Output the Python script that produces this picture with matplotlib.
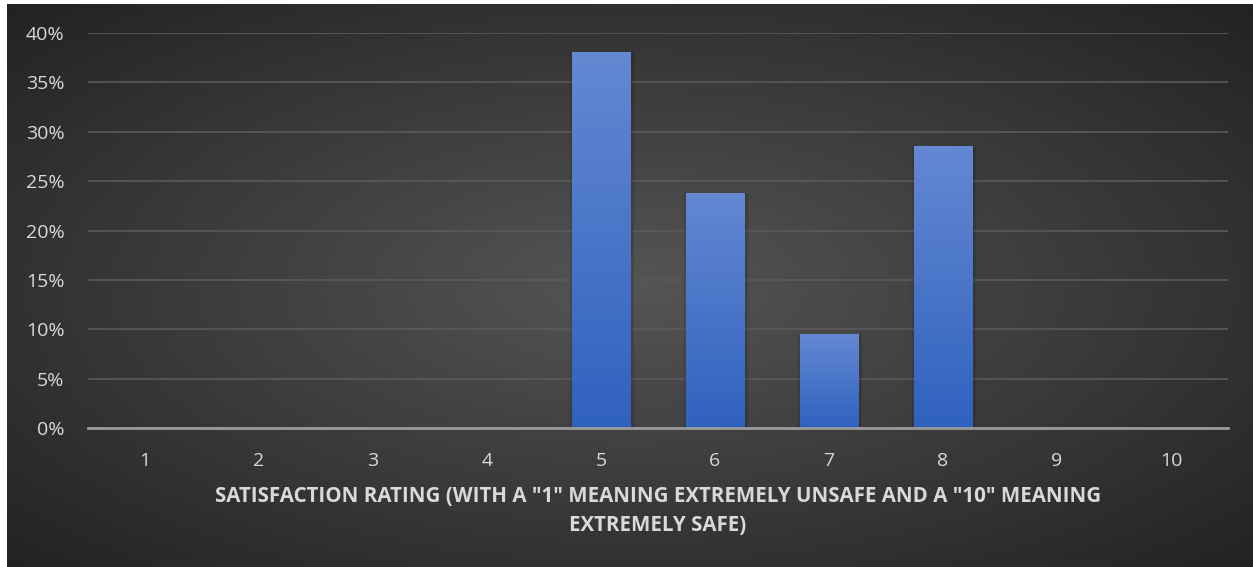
import matplotlib
matplotlib.use("Agg")
import matplotlib.pyplot as plt
import numpy as np
from matplotlib.ticker import FuncFormatter

categories = ["1", "2", "3", "4", "5", "6", "7", "8", "9", "10"]
values = [0, 0, 0, 0, 38.1, 23.8, 9.5, 28.6, 0, 0]
yticks = [0, 5, 10, 15, 20, 25, 30, 35, 40]
xlabel = 'SATISFACTION RATING (WITH A "1" MEANING EXTREMELY UNSAFE AND A "10" MEANING\nEXTREMELY SAFE)'

plt.rcParams['font.family'] = ['Open Sans', 'DejaVu Sans']
W, H = 1253, 567
fig = plt.figure(figsize=(W / 100, H / 100), dpi=100)
fig.patch.set_facecolor("white")

# background panel with radial gradient
bg = fig.add_axes([7 / W, 0, (W - 7) / W, (H - 4) / H])
bg.set_axis_off()
yy, xx = np.mgrid[0:200, 0:400]
cx, cy = 200, 100
r = np.sqrt(((xx - cx) / 200.0) ** 2 + ((yy - cy) / 100.0) ** 2) / np.sqrt(2)
inner = np.array([0x55, 0x55, 0x55]) / 255
outer = np.array([0x22, 0x22, 0x22]) / 255
t = np.clip(r / 1.0, 0, 1)[..., None]
img = inner * (1 - t) + outer * t
bg.imshow(img, aspect='auto', extent=[0, 1, 0, 1], interpolation='bicubic')
bg.set_xlim(0, 1)
bg.set_ylim(0, 1)

ax = fig.add_axes([88 / W, (H - 428) / H, (1228 - 88) / W, (428 - 33) / H * 1.0])
ax.patch.set_alpha(0)
x = np.arange(len(categories))
bars = ax.bar(x, values, width=0.51, color="#4a74c9", zorder=3, linewidth=0)

# gradient + soft shadow on bars
grad = np.linspace(0, 1, 100)[:, None]
top = np.array([0x64, 0x88, 0xd2]) / 255
bot = np.array([0x2f, 0x62, 0xbf]) / 255
gimg = top * (1 - grad[..., None]) + bot * grad[..., None]
gimg = np.repeat(gimg, 2, axis=1)
for b in bars:
    h = b.get_height()
    if h <= 0:
        continue
    x0 = b.get_x()
    w = b.get_width()
    for k, a in enumerate([0.08, 0.05, 0.03]):
        ax.bar(x0 + w / 2 + 0.01, h, width=w + 0.025 * (k + 1), bottom=0, color="black",
               alpha=a, zorder=2, linewidth=0)
    im = ax.imshow(gimg, aspect='auto', extent=[x0, x0 + w, 0, h], zorder=4)
    im.set_clip_path(b)
ax.set_xlim(-0.5, len(categories) - 0.5)
ax.set_ylim(0, 40)

ax.set_yticks(yticks)
ax.yaxis.set_major_formatter(FuncFormatter(lambda v, p: f"{int(v)}%"))
ax.set_xticks(x)
ax.set_xticklabels(categories)
ax.grid(axis='y', color="#5a5a5a", linewidth=1.2, zorder=0)
ax.set_axisbelow(True)
for s in ["top", "right", "left"]:
    ax.spines[s].set_visible(False)
ax.spines["bottom"].set_color("#9a9a9a")
ax.spines["bottom"].set_linewidth(2)
ax.spines["bottom"].set_zorder(5)
ax.tick_params(axis='both', length=0, colors="#d9d9d9", labelsize=14)
ax.tick_params(axis='y', pad=17)
ax.tick_params(axis='x', pad=17)
ax.set_xlabel(xlabel, color="#d9d9d9", fontsize=14.8, fontweight='bold',
              labelpad=12, linespacing=1.5)

fig.savefig("out.png", dpi=100, facecolor=fig.get_facecolor())
